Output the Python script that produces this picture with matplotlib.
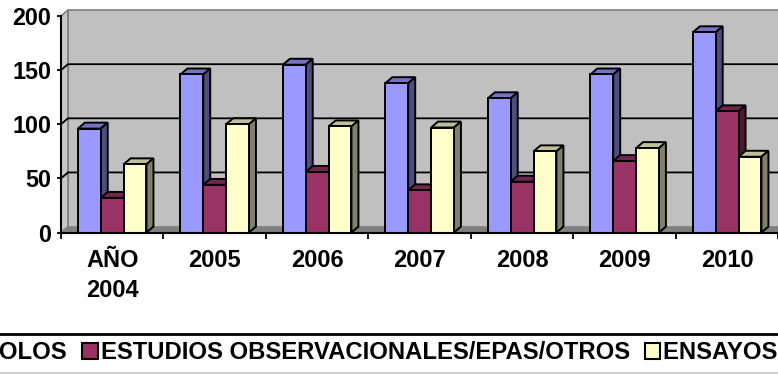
import matplotlib.pyplot as plt
from matplotlib.patches import Polygon, Patch
from matplotlib.lines import Line2D
import numpy as np

plt.rcParams['font.family'] = ['Liberation Sans', 'DejaVu Sans']
plt.rcParams['font.weight'] = 'bold'

# datos por año
anios = ['AÑO\n2004', '2005', '2006', '2007', '2008', '2009', '2010']
protocolos = [96, 146, 155, 138, 124, 146, 185]
estudios = [32, 44, 56, 39, 47, 66, 112]
ensayos = [63, 100, 98, 97, 75, 78, 70]
nombres = ['PROTOCOLOS', 'ESTUDIOS OBSERVACIONALES/EPAS/OTROS', 'ENSAYOS CLÍNICOS']

# colores: frente, tapa, lateral
colores = [('#9999FF', '#7373BF', '#4D4D80'),
           ('#993366', '#73264D', '#4D1A33'),
           ('#FFFFCC', '#BFBF99', '#80806A')]

fig = plt.figure(figsize=(7.78, 3.76), dpi=100)
ax = fig.add_axes([0.0784, 0.3816, 0.9222, 0.5758])
n = len(anios)
ax.set_xlim(0, n)
ax.set_ylim(0, 200)
ax.patch.set_visible(False)

# profundidad del efecto 3D
dx, dy = 0.068, 5.5

# paredes y suelo
ax.add_patch(Polygon([(dx, dy), (n + 1, dy), (n + 1, 200 + dy), (dx, 200 + dy)],
                     fc='#C0C0C0', ec='#808080', lw=1.2, clip_on=False, zorder=0))
ax.add_patch(Polygon([(0, 0), (dx, dy), (dx, 200 + dy), (0, 200)],
                     fc='#C8C8C8', ec='#808080', lw=1.2, clip_on=False, zorder=0))
ax.add_patch(Polygon([(0, 0), (n + 1, 0), (n + 1, dy), (dx, dy)],
                     fc='#808080', ec='#808080', lw=0.8, clip_on=False, zorder=0.5))
for v in (50, 100, 150):
    ax.plot([0, dx, n + 1], [v, v + dy, v + dy], color='black', lw=1.3,
            clip_on=False, zorder=1)

# barras con tapa y lateral
ancho = 0.223
inicio = 0.165
x = np.arange(n)
for k, (vals, (c_fr, c_tapa, c_lat)) in enumerate(zip([protocolos, estudios, ensayos], colores)):
    izq = x + inicio + k * ancho
    z = 2 + 2 * k
    ax.bar(izq, vals, width=ancho, align='edge', color=c_fr, edgecolor='black',
           lw=1.4, zorder=z + 1)
    for xi, h in zip(izq, vals):
        ax.add_patch(Polygon([(xi, h), (xi + dx, h + dy), (xi + ancho + dx, h + dy), (xi + ancho, h)],
                             fc=c_tapa, ec='black', lw=1.4, zorder=z))
        ax.add_patch(Polygon([(xi + ancho, 0), (xi + ancho + dx, dy), (xi + ancho + dx, h + dy), (xi + ancho, h)],
                             fc=c_lat, ec='black', lw=1.4, zorder=z))

# ejes
ax.set_xticks(range(n + 1))
ax.set_xticklabels([])
ax.set_xticks(x + 0.5, minor=True)
ax.set_xticklabels(anios, minor=True)
for lbl in ax.get_xticklabels(minor=True):
    lbl.set_linespacing(1.4)
ax.tick_params(axis='x', which='major', direction='out', length=4, width=1.3)
ax.tick_params(axis='x', which='minor', length=0, pad=12, labelsize=17)
ax.set_yticks([0, 50, 100, 150, 200])
ax.tick_params(axis='y', direction='out', length=3, width=1.3, pad=4, labelsize=16.8)
for s in ['top', 'right']:
    ax.spines[s].set_visible(False)
ax.spines['left'].set_linewidth(1.5)
ax.spines['bottom'].set_linewidth(1.5)
ax.spines['left'].set_zorder(10)
ax.spines['bottom'].set_zorder(10)

# leyenda
handles = [Patch(fc=c[0], ec='black', lw=1.5) for c in colores]
fig.legend(handles, nombres, loc='center left', bbox_to_anchor=(-0.155, 0.0612), ncol=3,
           frameon=False, prop={'size': 17.2, 'weight': 'bold'}, handlelength=0.64,
           handleheight=0.64, handletextpad=0.13, columnspacing=0.62,
           borderpad=0, borderaxespad=0)
fig.add_artist(Line2D([0, 1], [0.113, 0.113], transform=fig.transFigure, color='black', lw=2))
fig.add_artist(Line2D([0, 1], [0.008, 0.008], transform=fig.transFigure, color='#C8C8C8', lw=1.2))

fig.savefig('out.png', dpi=100)
